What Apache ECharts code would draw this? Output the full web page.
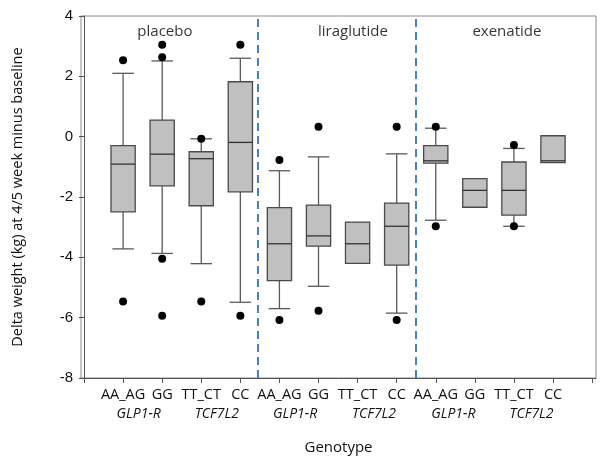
<!DOCTYPE html>
<html>
<head>
<meta charset="utf-8">
<script src="https://cdn.jsdelivr.net/npm/echarts@6/dist/echarts.min.js"></script>
<style>
    html, body { margin: 0; padding: 0; background: #fff; }
    #chart { width: 604px; height: 463px; }
</style>
</head>
<body>
<div id="chart"></div>
<script>
// box positions on the x axis and their genotype labels
const positions = [1, 2, 3, 4, 5, 6, 7, 8, 9, 10, 11, 12]
const genotypes = ['AA_AG', 'GG', 'TT_CT', 'CC', 'AA_AG', 'GG', 'TT_CT', 'CC', 'AA_AG', 'GG', 'TT_CT', 'CC']

// box statistics
const whiskerLow = [-3.72, -3.87, -4.21, -5.49, -5.70, -4.96, -4.20, -5.85, -2.77, -2.34, -2.97, -0.86]
const q1 = [-2.49, -1.63, -2.29, -1.83, -4.77, -3.63, -4.20, -4.26, -0.88, -2.34, -2.60, -0.86]
const median = [-0.91, -0.58, -0.73, -0.19, -3.55, -3.29, -3.55, -2.97, -0.80, -1.78, -1.78, -0.80]
const q3 = [-0.30, 0.55, -0.50, 1.82, -2.35, -2.27, -2.83, -2.20, -0.30, -1.39, -0.84, 0.03]
const whiskerHigh = [2.10, 2.51, -0.07, 2.60, -1.13, -0.67, -2.83, -0.57, 0.28, -1.39, -0.39, 0.03]

// outlier points
const outlierX = [1, 1, 2, 2, 2, 2, 3, 3, 4, 4, 5, 5, 6, 6, 8, 8, 9, 9, 11, 11]
const outlierY = [2.53, -5.46, 3.05, 2.63, -4.05, -5.94, -0.07, -5.46, 3.05, -5.94, -0.77, -6.08, 0.33, -5.77, 0.33, -6.08, 0.33, -2.97, -0.28, -2.97]

// gene labels under genotype labels
const genePos = [1.4, 3.4, 5.4, 7.42, 9.45, 11.45]
const geneNames = ['GLP1-R', 'TCF7L2', 'GLP1-R', 'TCF7L2', 'GLP1-R', 'TCF7L2']

// treatment groups
const groupNames = ['placebo', 'liraglutide', 'exenatide']
const groupX = [2.07, 6.88, 10.82]
const groupY = [3.48, 3.48, 3.48]
const separators = [4.45, 8.5]

const xTicks = [0, 1, 2, 3, 4, 5, 6, 7, 8, 9, 10, 11, 12, 13]

const boxData = positions.map((p, i) => [p, whiskerLow[i], q1[i], median[i], q3[i], whiskerHigh[i]])

const myChart = echarts.init(document.getElementById('chart'))

function renderBox(params, api) {
    const x = api.value(0)
    const lo = api.coord([x, api.value(1)])
    const b1 = api.coord([x, api.value(2)])
    const md = api.coord([x, api.value(3)])
    const b3 = api.coord([x, api.value(4)])
    const hi = api.coord([x, api.value(5)])
    const boxW = api.size([0.62, 0])[0]
    const capW = api.size([0.55, 0])[0]
    const cx = md[0]
    const whisker = { stroke: '#5a5a5a', lineWidth: 1.3 }
    const children = []
    if (hi[1] < b3[1] - 0.5) {
        children.push({ type: 'line', shape: { x1: cx, y1: b3[1], x2: cx, y2: hi[1] }, style: whisker })
        children.push({ type: 'line', shape: { x1: cx - capW / 2, y1: hi[1], x2: cx + capW / 2, y2: hi[1] }, style: whisker })
    }
    if (lo[1] > b1[1] + 0.5) {
        children.push({ type: 'line', shape: { x1: cx, y1: b1[1], x2: cx, y2: lo[1] }, style: whisker })
        children.push({ type: 'line', shape: { x1: cx - capW / 2, y1: lo[1], x2: cx + capW / 2, y2: lo[1] }, style: whisker })
    }
    children.push({
        type: 'rect',
        shape: { x: cx - boxW / 2, y: b3[1], width: boxW, height: b1[1] - b3[1] },
        style: { fill: '#c0c0c0', stroke: '#4a4a4a', lineWidth: 1.3 }
    })
    children.push({ type: 'line', shape: { x1: cx - boxW / 2, y1: md[1], x2: cx + boxW / 2, y2: md[1] }, style: { stroke: '#333', lineWidth: 1.3 } })
    return { type: 'group', children }
}

myChart.setOption({
    animation: false,
    grid: {
        left: 81,
        right: 8,
        top: 16,
        bottom: 85,
        show: true,
        borderColor: '#8a8a8a',
        borderWidth: 1
    },
    xAxis: [
        {
            type: 'value',
            min: -0.077,
            max: 13.1,
            name: 'Genotype',
            nameLocation: 'middle',
            nameGap: 62,
            nameTextStyle: { fontFamily: 'Open Sans', fontSize: 15, color: '#111' },
            axisLine: { show: true, onZero: false, lineStyle: { color: '#555' } },
            axisTick: { show: true, length: 5, customValues: xTicks, lineStyle: { color: '#555' } },
            splitLine: { show: false },
            axisLabel: {
                customValues: positions,
                formatter: v => genotypes[positions.indexOf(Math.round(v))] || '',
                fontFamily: 'Open Sans',
                fontSize: 14.5,
                color: '#111',
                margin: 9
            }
        },
        {
            type: 'value',
            min: -0.077,
            max: 13.1,
            position: 'bottom',
            offset: 20,
            axisLine: { show: false },
            axisTick: { show: false },
            splitLine: { show: false },
            axisLabel: {
                customValues: genePos,
                formatter: v => geneNames[genePos.findIndex(g => Math.abs(g - v) < 0.01)] || '',
                fontFamily: 'Open Sans',
                fontStyle: 'italic',
                fontSize: 14,
                color: '#111',
                margin: 9
            }
        }
    ],
    yAxis: {
        type: 'value',
        min: -8,
        max: 4,
        interval: 2,
        name: 'Delta weight (kg) at 4/5 week minus baseline',
        nameLocation: 'middle',
        nameGap: 56,
        nameTextStyle: { fontFamily: 'Open Sans', fontSize: 14.5, color: '#111' },
        axisLine: { show: true, lineStyle: { color: '#555' } },
        axisTick: { show: true, length: 5, lineStyle: { color: '#555' } },
        splitLine: { show: false },
        axisLabel: {
            fontFamily: 'Liberation Sans',
            fontSize: 15,
            color: '#111',
            margin: 8
        }
    },
    series: [
        {
            type: 'custom',
            renderItem: renderBox,
            encode: { x: 0, y: [1, 2, 3, 4, 5] },
            data: boxData,
            z: 3,
            markLine: {
                silent: true,
                symbol: 'none',
                label: { show: false },
                lineStyle: { color: '#4f7fb8', type: [8, 5], width: 2 },
                data: separators.map(s => ({ xAxis: s }))
            }
        },
        {
            type: 'scatter',
            symbolSize: 8,
            itemStyle: { color: '#000', opacity: 1 },
            data: outlierX.map((x, i) => [x, outlierY[i]]),
            z: 4
        },
        {
            type: 'scatter',
            symbolSize: 0,
            silent: true,
            data: groupNames.map((n, i) => ({ name: n, value: [groupX[i], groupY[i]] })),
            label: {
                show: true,
                position: 'inside',
                formatter: p => p.name,
                fontFamily: 'Open Sans',
                fontSize: 15,
                color: '#000'
            }
        }
    ]
})
</script>
</body>
</html>
